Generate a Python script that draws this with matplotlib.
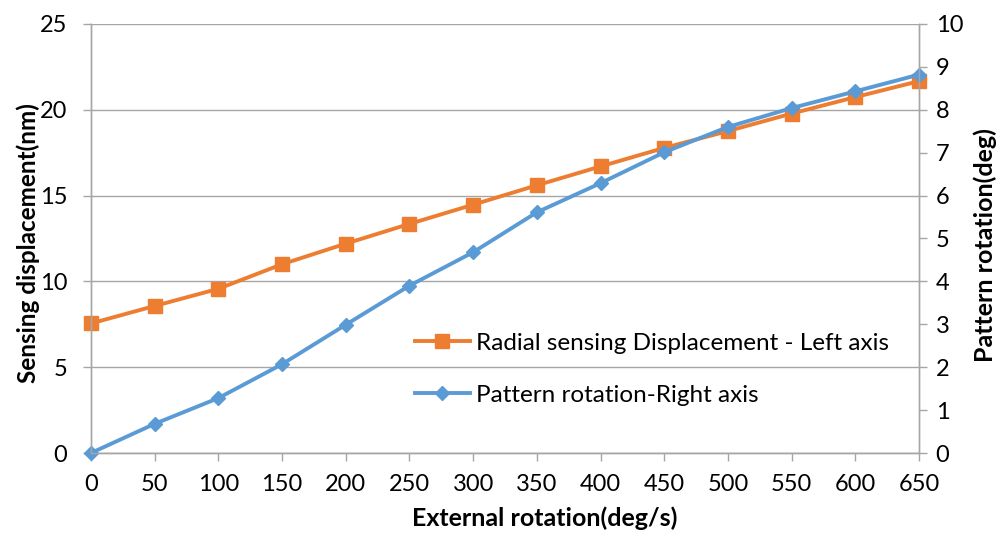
import matplotlib
matplotlib.use("Agg")
import matplotlib.pyplot as plt

plt.rcParams['font.family'] = ['Lato', 'DejaVu Sans']

rotation_rate = [0, 50, 100, 150, 200, 250, 300, 350, 400, 450, 500, 550, 600, 650]
radial_displacement = [7.55, 8.57, 9.57, 11.0, 12.2, 13.35, 14.47, 15.6, 16.7, 17.78,
                       18.76, 19.78, 20.74, 21.67]
pattern_rotation = [0.0, 0.68, 1.28, 2.07, 2.99, 3.9, 4.68, 5.61, 6.29, 7.01,
                    7.6, 8.04, 8.43, 8.82]
x_ticks = list(range(0, 651, 50))
left_ticks = [0, 5, 10, 15, 20, 25]
right_ticks = list(range(0, 11))

orange = '#ED7D31'
blue = '#5B9BD5'
grey = '#A6A6A6'

fig = plt.figure(figsize=(10.05, 5.4), dpi=100)
ax = fig.add_axes([91/1005, 1 - 453/540, (919 - 91)/1005, (453 - 24)/540])
ax2 = ax.twinx()

l1, = ax.plot(rotation_rate, radial_displacement, color=orange, lw=2.8,
              marker='s', markersize=10, label='Radial sensing Displacement - Left axis',
              clip_on=False)
l2, = ax2.plot(rotation_rate, pattern_rotation, color=blue, lw=2.8,
               marker='D', markersize=7.5, label='Pattern rotation-Right axis',
               clip_on=False)

ax.set_xlim(0, 650)
ax.set_ylim(0, 25)
ax2.set_ylim(0, 10)
ax.set_xticks(x_ticks)
ax.set_yticks(left_ticks)
ax2.set_yticks(right_ticks)

ax.grid(axis='y', color=grey, lw=1.0)
ax.set_axisbelow(True)

for a in (ax, ax2):
    a.spines['top'].set_visible(False)
    for s in ('left', 'right', 'bottom'):
        a.spines[s].set_color(grey)
        a.spines[s].set_linewidth(1.0)
    a.tick_params(colors=grey, labelcolor='black', labelsize=17, length=6, width=1)

ax.tick_params(axis='x', pad=9)
ax.tick_params(axis='y', pad=11)
ax2.tick_params(axis='y', pad=6)

ax.set_xlabel('External rotation(deg/s)', fontsize=18, fontweight='bold')
ax.set_ylabel('Sensing displacement(nm)', fontsize=17.5, fontweight='bold')
ax2.set_ylabel('Pattern rotation(deg)', fontsize=18, fontweight='bold')
ax.xaxis.set_label_coords((545 - 91) / 828, -(506 - 453) / 429)
ax.yaxis.set_label_coords((40 - 91) / 828, 0.49)
ax2.yaxis.set_label_coords((973 - 91) / 828, 0.485)

ax2.legend(handles=[l1, l2], loc='upper left', bbox_to_anchor=(393/1005, 1 - 311/540),
           bbox_transform=fig.transFigure, frameon=False, fontsize=17.5,
           handlelength=2.26, labelspacing=1.26, handletextpad=0.25)

fig.savefig('out.png', dpi=100)
